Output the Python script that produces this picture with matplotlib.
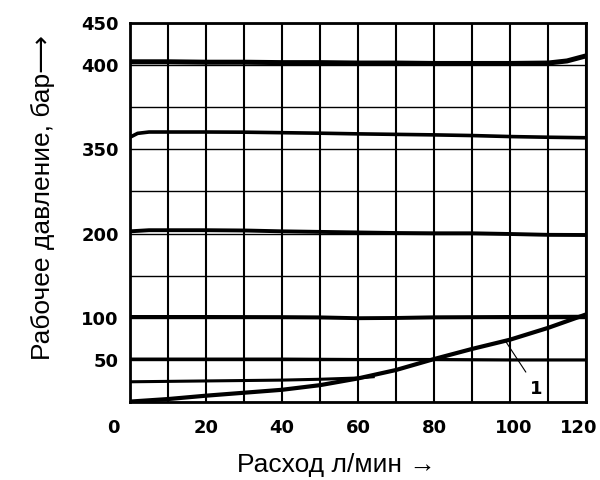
import numpy as np
import matplotlib
matplotlib.use("Agg")
import matplotlib.pyplot as plt
from matplotlib.transforms import ScaledTranslation

# pressure scale of the chart is not linear: grid rows -> bar
grid_bar = [0, 50, 100, 150, 200, 275, 350, 375, 400, 450]
grid_rows = list(range(len(grid_bar)))
ytick_vals = [50, 100, 200, 350, 400, 450]
xtick_vals = [0, 20, 40, 60, 80, 100, 120]

# flow, l/min
x_400 = [0, 10, 20, 30, 40, 50, 60, 70, 80, 90, 100, 110, 115, 120]
p_400 = [404, 404, 403.5, 403.5, 403, 403, 402.5, 402.5, 402, 402, 402, 402.5, 405, 411]

x_350 = [0, 2, 5, 10, 20, 30, 40, 50, 60, 70, 80, 90, 100, 110, 120]
p_350 = [357.2, 359.5, 360.3, 360.3, 360.3, 360.2, 359.9, 359.6, 359.2, 358.9, 358.6, 358.2, 357.6, 357.2, 356.9]

x_200 = [0, 5, 20, 30, 40, 50, 60, 70, 80, 90, 100, 110, 120]
p_200 = [204, 206, 206, 205.5, 204, 203, 202, 201, 200.5, 200.5, 199.5, 198.5, 198.3]

x_100 = [0, 20, 40, 50, 60, 70, 80, 100, 120]
p_100 = [101, 101, 100.8, 100.5, 99.5, 99.8, 100.6, 101, 101.3]

x_50 = [0, 20, 40, 60, 80, 100, 120]
p_50 = [51, 51, 51, 50.5, 50.5, 50, 50]

x_25 = [0, 10, 20, 30, 40, 50, 60, 64]
p_25 = [24, 24.5, 25, 25.5, 26, 27, 28.5, 30]

# curve 1
x_1 = [0, 10, 20, 30, 40, 50, 60, 70, 80, 90, 100, 110, 120]
p_1 = [0.5, 3.5, 7.5, 11, 14.5, 20, 28, 38, 51, 63, 74, 88, 104]


def fwd(v):
    return np.interp(v, grid_bar, grid_rows)


def inv(g):
    return np.interp(g, grid_rows, grid_bar)


fig = plt.figure(figsize=(6, 4.8), dpi=100)
ax = fig.add_axes([0.2167, 0.1625, 0.76, 0.7895])
ax.set_yscale("function", functions=(fwd, inv))
ax.set_xlim(0, 120)
ax.set_ylim(0, 450)

# grid
for xv in range(0, 121, 10):
    ax.axvline(xv, color="black", lw=1.5, zorder=1)
for yv in grid_bar:
    ax.axhline(yv, color="black", lw=1.0, zorder=1)

ax.plot(x_400, p_400, color="black", lw=3.6, zorder=3)
ax.plot(x_350, p_350, color="black", lw=2.6, zorder=3)
ax.plot(x_200, p_200, color="black", lw=2.8, zorder=3)
ax.plot(x_100, p_100, color="black", lw=2.8, zorder=3)
ax.plot(x_50, p_50, color="black", lw=2.2, zorder=3)
ax.plot(x_25, p_25, color="black", lw=2.2, zorder=3)
ax.plot(x_1, p_1, color="black", lw=3.0, zorder=3)

ax.annotate("1", xy=(99, 71), xytext=(107, 16), ha="center", va="center",
            fontsize=13, fontweight="bold", family="DejaVu Sans",
            arrowprops=dict(arrowstyle="-", lw=0.8, color="black",
                            shrinkA=4, shrinkB=0))

for s in ax.spines.values():
    s.set_linewidth(2.0)

ax.set_xticks(xtick_vals)
ax.set_yticks(ytick_vals)
ax.set_yticks([], minor=True)
ax.tick_params(length=0, labelsize=13, pad=8)
ax.tick_params(axis="x", pad=12)
for lab in ax.get_xticklabels() + ax.get_yticklabels():
    lab.set_fontweight("bold")
    lab.set_family("DejaVu Sans")
xl = ax.get_xticklabels()
xl[0].set_transform(xl[0].get_transform() + ScaledTranslation(-0.17, 0, fig.dpi_scale_trans))
xl[5].set_transform(xl[5].get_transform() + ScaledTranslation(0.04, 0, fig.dpi_scale_trans))
xl[6].set_transform(xl[6].get_transform() + ScaledTranslation(-0.07, 0, fig.dpi_scale_trans))

ax.set_xlabel("Расход л/мин →", fontsize=19, family=["Liberation Sans", "DejaVu Sans"])
ax.set_ylabel("Рабочее давление, бар⟶", fontsize=19, family=["Liberation Sans", "DejaVu Sans"])
ax.xaxis.set_label_coords(0.453, -0.165)
ax.yaxis.set_label_coords(-0.19, 0.54)
ax.yaxis.label.set_va("center")
ax.xaxis.label.set_va("center")

fig.savefig("out.png", dpi=100)
